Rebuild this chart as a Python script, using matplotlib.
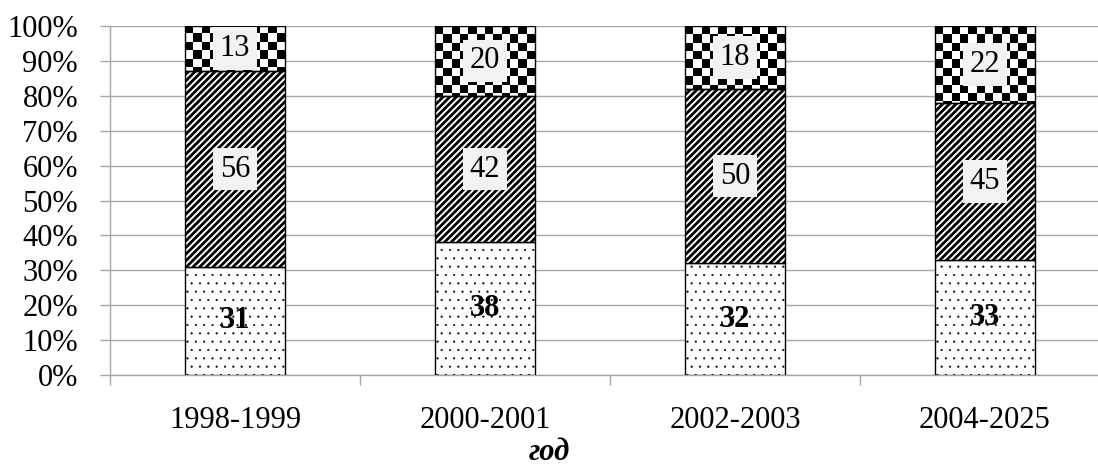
import numpy as np
import matplotlib
matplotlib.use("Agg")
from matplotlib import pyplot as plt
from matplotlib.patches import Rectangle

# shares by period, %
periods = ["1998-1999", "2000-2001", "2002-2003", "2004-2025"]
bottom_part = [31, 38, 32, 33]
middle_part = [56, 42, 50, 45]
top_part = [13, 20, 18, 22]

plt.rcParams['font.family'] = ['Liberation Serif', 'DejaVu Serif']
plt.rcParams['hatch.color'] = 'black'

fig = plt.figure(figsize=(10.98, 4.68), dpi=100)
ax = fig.add_axes([110 / 1098, 93 / 468, 1000 / 1098, 349 / 468])

x = np.arange(len(periods))
w = 0.4
fs = 22

plt.rcParams['hatch.linewidth'] = 0.3
b1 = ax.bar(x, bottom_part, w, color='white', edgecolor='black', linewidth=1.0,
            hatch='..', zorder=3)
plt.rcParams['hatch.linewidth'] = 2.0
b2 = ax.bar(x, middle_part, w, bottom=bottom_part, color='white', edgecolor='black',
            linewidth=1.0, hatch='/////', zorder=3)
base3 = np.array(bottom_part) + np.array(middle_part)
b3 = ax.bar(x, top_part, w, bottom=base3, color='none', edgecolor='black',
            linewidth=1.0, zorder=4)

# checkerboard fill for the top segments (no such hatch in matplotlib)
cell_y = 2.39
for rect in b3:
    x0, y0 = rect.get_x(), rect.get_y()
    ww, hh = rect.get_width(), rect.get_height()
    ncol = 12
    nrow = int(np.ceil(hh / cell_y))
    board = (np.add.outer(np.arange(nrow), np.arange(ncol)) % 2).astype(float)
    y_top = y0 + hh
    im = ax.imshow(board, cmap='gray', vmin=0, vmax=1, interpolation='nearest',
                   extent=(x0, x0 + ww, y_top - nrow * cell_y, y_top),
                   origin='upper', aspect='auto', zorder=2.5)
    clip = Rectangle((x0, y0), ww, hh, transform=ax.transData)
    im.set_clip_path(clip)

box = dict(boxstyle='square,pad=0.22', facecolor='#f2f2f2', edgecolor='none')
for i in range(len(periods)):
    ax.text(x[i], bottom_part[i] / 2, str(bottom_part[i]), ha='center', va='center',
            fontsize=fs, fontweight='bold', zorder=5)
    ax.text(x[i], bottom_part[i] + middle_part[i] / 2, str(middle_part[i]),
            ha='center', va='center', fontsize=fs, bbox=box, zorder=5)
    ax.text(x[i], base3[i] + top_part[i] / 2, str(top_part[i]),
            ha='center', va='center', fontsize=fs, bbox=box, zorder=5)

ax.set_xlim(-0.5, len(periods) - 0.5)
ax.set_ylim(0, 100)
ax.set_yticks(np.arange(0, 101, 10))
ax.set_yticklabels([f"{v}%" for v in range(0, 101, 10)], fontsize=fs)
ax.set_xticks(x)
ax.set_xticklabels(periods, fontsize=fs)
ax.set_xticks(np.arange(-0.5, len(periods), 1), minor=True)
ax.tick_params(axis='x', which='major', length=0, pad=22)
ax.tick_params(axis='x', which='minor', length=7, color='#a6a6a6', width=1)
ax.tick_params(axis='y', length=7, color='#a6a6a6', width=1, pad=16)

ax.grid(axis='y', color='#a6a6a6', linewidth=1)
ax.set_axisbelow(True)
for s in ['top', 'right']:
    ax.spines[s].set_visible(False)
for s in ['left', 'bottom']:
    ax.spines[s].set_color('#a6a6a6')
    ax.spines[s].set_linewidth(1)

fig.text(0.5, 0.002, "год", ha='center', va='bottom', fontsize=fs,
         fontweight='bold', fontstyle='italic')

fig.savefig("out.png", dpi=100)
